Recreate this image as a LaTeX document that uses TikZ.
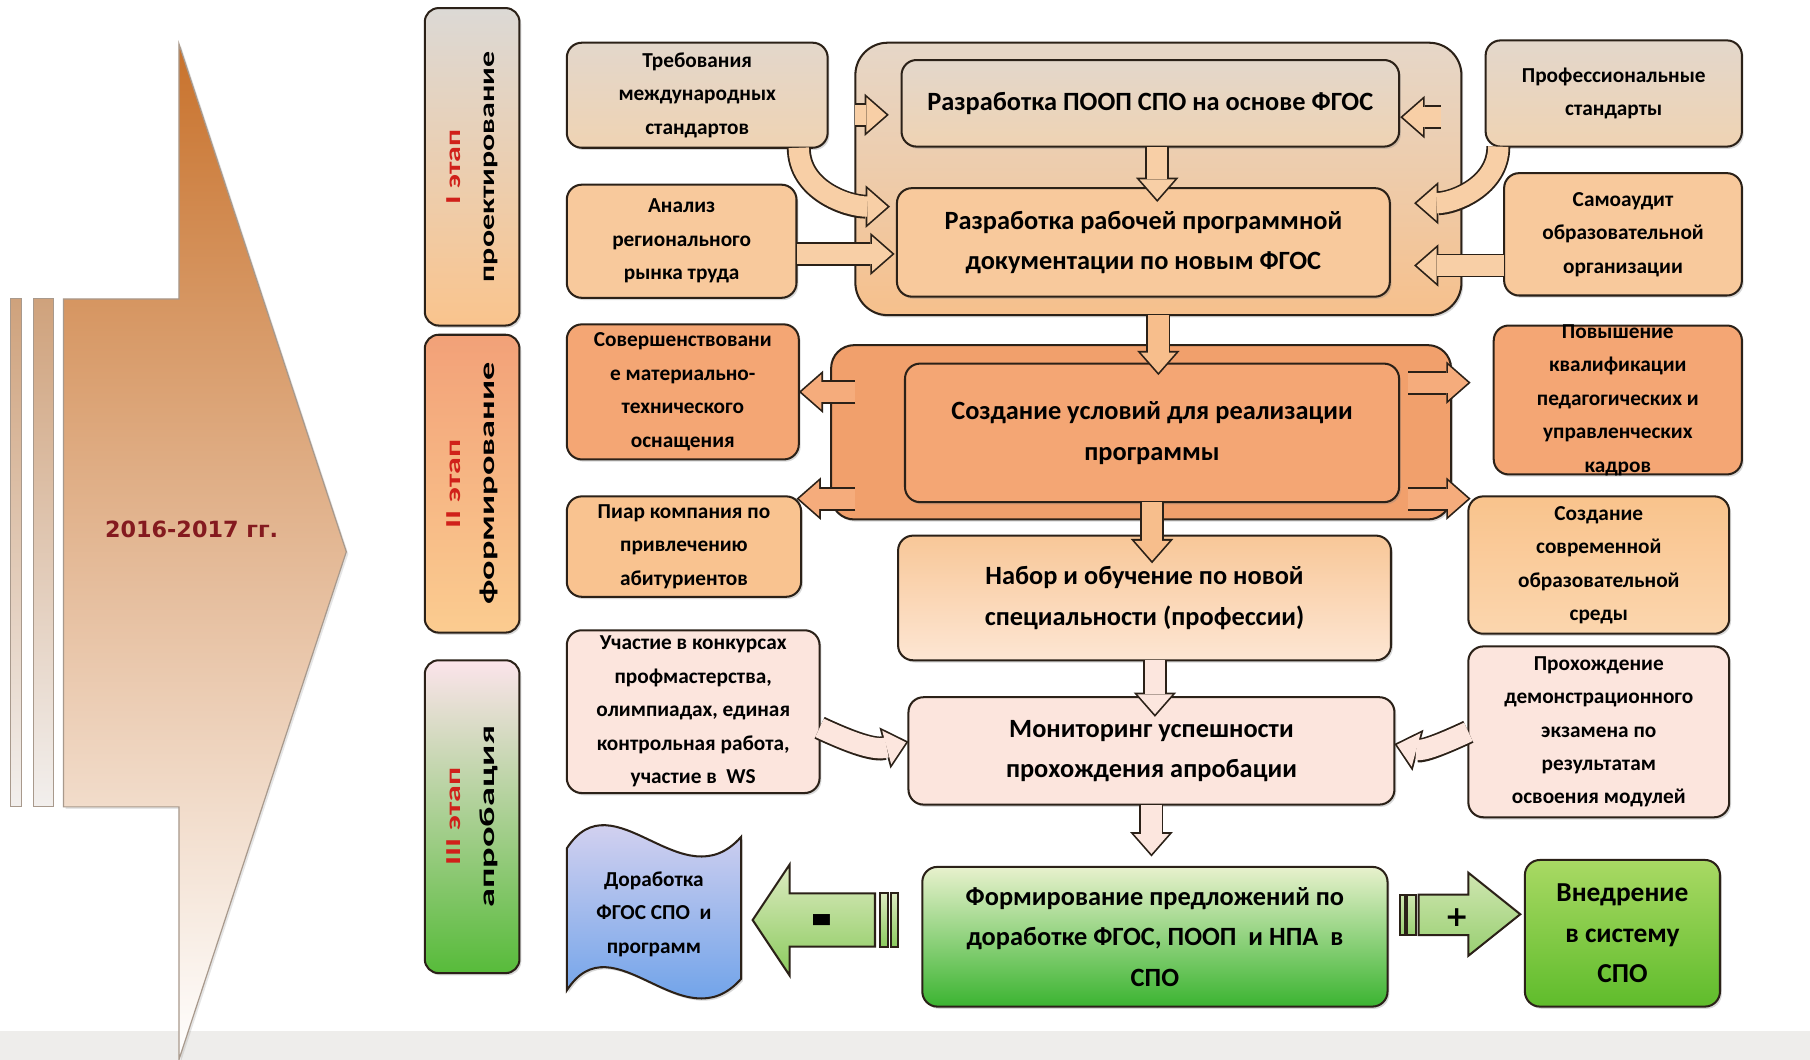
\documentclass[tikz,border=0pt]{standalone}
\usepackage{fontspec}
\usepackage{graphicx}
\setmainfont{Carlito}
\newfontfamily\yearfont{DejaVu Sans}
\usetikzlibrary{positioning, arrows.meta, calc, shadows}

\definecolor{edge}{HTML}{2B2118}
\definecolor{beigeTop}{HTML}{E3D7CB}
\definecolor{beigeBot}{HTML}{EFD3B3}
\definecolor{peach}{HTML}{F8C99C}
\definecolor{contTop}{HTML}{E6D7C8}
\definecolor{contBot}{HTML}{F6C08C}
\definecolor{orange}{HTML}{F4A674}
\definecolor{orangeDark}{HTML}{F1A06C}
\definecolor{apricot}{HTML}{F9C390}
\definecolor{sredaTop}{HTML}{F9C38C}
\definecolor{sredaBot}{HTML}{FBD6AE}
\definecolor{nabTop}{HTML}{F8C798}
\definecolor{nabBot}{HTML}{FDE6D3}
\definecolor{pink}{HTML}{FCE5DD}
\definecolor{formTop}{HTML}{E8F1CD}
\definecolor{formBot}{HTML}{3BB431}
\definecolor{vnedTop}{HTML}{A9D964}
\definecolor{vnedBot}{HTML}{5FBC2B}
\definecolor{dorTop}{HTML}{EDDDF1}
\definecolor{dorBot}{HTML}{5898E8}
\definecolor{stOneTop}{HTML}{DCD9D5}
\definecolor{stOneBot}{HTML}{FAC48D}
\definecolor{stTwoTop}{HTML}{F2A178}
\definecolor{stTwoBot}{HTML}{FBCC90}
\definecolor{stThreeTop}{HTML}{FCE4EB}
\definecolor{stThreeMid}{HTML}{F8EEE4}
\definecolor{stThreeBot}{HTML}{57BB3A}
\definecolor{stageRed}{HTML}{D0201A}
\definecolor{yearRed}{HTML}{841A1F}
\definecolor{arrowTop}{HTML}{C8722C}
\definecolor{arrowMid}{HTML}{FFF8F2}
\definecolor{arrowEdge}{HTML}{A8998C}
\definecolor{barTop}{HTML}{CFA27C}
\definecolor{barBot}{HTML}{F2EFED}
\definecolor{bandGray}{HTML}{EEEDEB}
\definecolor{arrowPeach}{HTML}{F8CFA6}
\definecolor{arrowOrange}{HTML}{F5AC7C}
\definecolor{arrowLight}{HTML}{F7BE8C}
\definecolor{arrowPink}{HTML}{FCE6DE}
\definecolor{minusTop}{HTML}{DDEBC1}
\definecolor{minusBot}{HTML}{8BCA5E}
\definecolor{plusTop}{HTML}{CFE6B0}
\definecolor{plusBot}{HTML}{99CF72}

\newcommand{\fatarrow}[2]{\draw[fat_back] #2 ; \draw[fat_front, draw=#1] #2 ;}

\begin{document}
\begin{tikzpicture}
    [
        x=0.2mm, y=-0.2mm,
        box/.style={draw=edge, line width=1pt, rounded corners=2.6mm, inner sep=1pt, outer sep=0pt, align=center, drop shadow={shadow xshift=0.9pt, shadow yshift=-1.1pt, opacity=0.3}},
        small_box/.style={box, font=\fontsize{10.5}{16.5}\selectfont\bfseries},
        main_box/.style={box, font=\fontsize{13}{20}\selectfont\bfseries},
        small_text/.style={align=center, font=\fontsize{10.5}{16.5}\selectfont\bfseries},
        stage_box/.style={box, rounded corners=2.4mm, minimum width=16.4mm},
        stage_text/.style={rotate=90, align=center, font=\fontsize{10.5}{17}\selectfont\bfseries},
        fat_back/.style={line width=11.8pt, draw=edge, -{Triangle[length=12pt, width=21pt, line width=0pt]}},
        fat_front/.style={line width=10pt, shorten >=1.3pt, -{Triangle[length=9.8pt, width=17.2pt, line width=0pt]}},
        green_arrow/.style={draw=edge, line width=1pt},
        bar_fill/.style={draw=arrowEdge, line width=0.5pt, top color=barTop, bottom color=barBot},
    ]
        \fill[white] (0,0) rectangle (1568,918) ;
        \fill[bandGray] (0,893) rectangle (1568,918) ;
        \useasboundingbox (0,0) rectangle (1568,918) ;

        \draw[bar_fill] (9,259) rectangle (19,699) ;
        \draw[bar_fill] (29,259) rectangle (46,699) ;
        \draw[draw=arrowEdge, line width=0.6pt, top color=arrowTop, middle color=arrowMid, bottom color=white, drop shadow={shadow xshift=1pt, shadow yshift=-1pt, opacity=0.2}] (55,259) -- (155,259) -- (155,38) -- (300,478) -- (155,918) -- (155,699) -- (55,699) -- cycle ;
        \node[font=\yearfont\fontsize{11}{13}\selectfont\bfseries, text=yearRed] (year) at (166,459) {2016-2017 гг.} ;

        \node[stage_box, top color=stOneTop, bottom color=stOneBot, minimum height=55mm, label={[stage_text]center:{\scalebox{1.5}[1]{\color{stageRed}I этап}\\\scalebox{1.5}[1]{проектирование}}}] (stage1) at (409,144.5) {} ;
        \node[stage_box, top color=stTwoTop, bottom color=stTwoBot, minimum height=51.6mm, label={[stage_text]center:{\scalebox{1.6}[1]{\color{stageRed}II этап}\\\scalebox{1.7}[1]{формирование}}}] (stage2) at (409,419) {} ;
        \node[stage_box, top color=stThreeTop, middle color=stThreeMid, bottom color=stThreeBot, minimum height=54.2mm, label={[stage_text]center:{\scalebox{1.6}[1]{\color{stageRed}III этап}\\\scalebox{1.8}[1]{апробация}}}] (stage3) at (409,707.5) {} ;

        \node[box, rounded corners=5.6mm, top color=contTop, bottom color=contBot, minimum width=105mm, minimum height=47.2mm] (cont1) at (1003.5,155) {} ;
        \node[main_box, top color=beigeTop, bottom color=beigeBot, minimum width=86.2mm, minimum height=15mm] (poop) at (996.5,89.5) {Разработка ПООП СПО на основе ФГОС} ;
        \node[main_box, fill=peach, minimum width=85.4mm, minimum height=18.8mm] (rab) at (990.5,210) {Разработка рабочей программной\\документации по новым ФГОС} ;
        \node[small_box, top color=beigeTop, bottom color=beigeBot, minimum width=45.2mm, minimum height=18.2mm] (treb) at (604,82.5) {Требования\\международных\\стандартов} ;
        \node[small_box, fill=peach, minimum width=39.8mm, minimum height=19.6mm] (anal) at (590.5,209) {Анализ\\регионального\\рынка труда} ;
        \node[small_box, top color=beigeTop, bottom color=beigeBot, minimum width=44.4mm, minimum height=18.4mm] (prof) at (1398,81) {Профессиональные\\стандарты} ;
        \node[small_box, fill=peach, minimum width=41.2mm, minimum height=21.2mm] (samo) at (1406,203) {Самоаудит\\образовательной\\организации} ;

        \node[box, rounded corners=4mm, fill=orangeDark, minimum width=107.4mm, minimum height=30.2mm] (cont2) at (988.5,374.5) {} ;
        \node[main_box, fill=orange, minimum width=85.6mm, minimum height=24mm] (usl) at (998,375) {Создание условий для реализации\\программы} ;
        \node[small_box, fill=orange, minimum width=40.2mm, minimum height=23.4mm] (sov) at (591.5,339.5) {Совершенствовани\\е материально-\\технического\\оснащения} ;
        \node[small_box, fill=apricot, minimum width=40.6mm, minimum height=17.4mm] (piar) at (592.5,473.5) {Пиар компания по\\привлечению\\абитуриентов} ;
        \node[box, fill=orange, minimum width=43mm, minimum height=25.8mm, label={[small_text]center:{Повышение\\квалификации\\педагогических и\\управленческих\\кадров}}] (pov) at (1401.5,346.5) {} ;
        \node[small_box, top color=sredaTop, bottom color=sredaBot, minimum width=45.2mm, minimum height=23.8mm] (sreda) at (1385,489.5) {Создание\\современной\\образовательной\\среды} ;
        \node[main_box, top color=nabTop, bottom color=nabBot, minimum width=85.4mm, minimum height=21.6mm] (nab) at (991.5,518) {Набор и обучение по новой\\специальности (профессии)} ;

        \node[small_box, fill=pink, minimum width=43.8mm, minimum height=28.2mm] (uch) at (600.5,616.5) {Участие в конкурсах\\профмастерства,\\олимпиадах, единая\\контрольная работа,\\участие в\ \ WS} ;
        \node[main_box, fill=pink, minimum width=84.2mm, minimum height=18.6mm] (mon) at (997.5,650.5) {Мониторинг успешности\\прохождения апробации} ;
        \node[small_box, fill=pink, minimum width=45.2mm, minimum height=29.6mm] (proh) at (1385,634) {Прохождение\\демонстрационного\\экзамена по\\результатам\\освоения модулей} ;
        \node[main_box, top color=formTop, bottom color=formBot, minimum width=80.6mm, minimum height=24.2mm] (form) at (1000.5,811.5) {Формирование предложений по\\доработке ФГОС, ПООП\ \ и НПА\ \ в\\СПО} ;
        \node[box, font=\fontsize{13.5}{20}\selectfont\bfseries, top color=vnedTop, bottom color=vnedBot, minimum width=33.8mm, minimum height=25.4mm] (vned) at (1405.5,808.5) {Внедрение\\в систему\\СПО} ;

        \coordinate (dor_c) at (566.5,792) ;
        \begin{scope}[shift={(dor_c)}]
            \draw[draw=edge, line width=1pt, top color=dorTop, bottom color=dorBot, drop shadow={shadow xshift=0.9pt, shadow yshift=-1.1pt, opacity=0.3}] (-75.5,-57) .. controls (-35,-120) and (25,-10) .. (75.5,-67) -- (75.5,56) .. controls (25,113) and (-35,3) .. (-75.5,66) -- cycle ;
        \end{scope}
        \node[small_text] (dor) at (dor_c) {Доработка\\ФГОС СПО\ \ и\\программ} ;

        \fatarrow{arrowPeach}{($(cont1.west |- poop.west)+(0,10)$) -- ($(poop.west)+(-11,10)$)}
        \fatarrow{arrowPeach}{($(treb.south east)+(-25,0)$) to[out=-90, in=180] ($(rab.north west)+(-6,16)$)}
        \fatarrow{arrowPeach}{($(anal.east)+(0,11)$) -- ($(rab.west)+(-2,10)$)}
        \fatarrow{arrowPeach}{($(cont1.east |- poop.east)+(-18,12)$) -- ($(poop.east)+(1,12)$)}
        \fatarrow{arrowPeach}{($(prof.south west)+(11,0)$) to[out=-90, in=0] ($(rab.north east)+(21,13)$)}
        \fatarrow{arrowPeach}{($(samo.west)+(0,27)$) -- ($(rab.east)+(21,20)$)}
        \fatarrow{arrowPeach}{($(poop.south)+(6,0)$) -- ($(poop.south |- rab.north)+(6,12)$)}
        \fatarrow{arrowLight}{(cont1.south) -- ($(cont1.south |- usl.north)+(0,10)$)}

        \fatarrow{arrowOrange}{($(sov.east -| usl.west)+(-43,0)$) -- (sov.east)}
        \fatarrow{arrowOrange}{($(piar.north east -| usl.west)+(-43,2)$) -- ($(piar.north east)+(-4,2)$)}
        \fatarrow{arrowOrange}{($(pov.west -| usl.east)+(8,-15)$) -- ($(pov.west)+(-20,-15)$)}
        \fatarrow{arrowOrange}{($(sreda.north west -| usl.east)+(8,2)$) -- ($(sreda.north west)+(2,2)$)}
        \fatarrow{arrowLight}{(usl.south) -- ($(usl.south |- nab.north)+(0,24)$)}

        \fatarrow{arrowPink}{($(nab.south)+(9,0)$) -- ($(nab.south |- mon.north)+(9,17)$)}
        \fatarrow{arrowPink}{($(uch.east)+(0,14)$) to[out=-25, in=195] ($(mon.west)+(0,-8)$)}
        \fatarrow{arrowPink}{(proh.west) to[out=205, in=-15] ($(mon.east)+(0,-6)$)}
        \fatarrow{arrowPink}{(mon.south) -- ($(mon.south |- form.north)+(0,-9)$)}

        \begin{scope}[shift={(form.west)}]
            \draw[green_arrow, top color=minusTop, bottom color=minusBot] (-147,-14.5) -- (-115,-62.5) -- (-115,-37.5) -- (-41,-37.5) -- (-41,8.5) -- (-115,8.5) -- (-115,33.5) -- cycle ;
            \draw[green_arrow, top color=minusTop, bottom color=minusBot] (-37,-37.5) rectangle (-30,8.5) ;
            \draw[green_arrow, top color=minusTop, bottom color=minusBot] (-27,-37.5) rectangle (-21,8.5) ;
        \end{scope}
        \begin{scope}[shift={(form.east)}]
            \draw[green_arrow, top color=plusTop, bottom color=plusBot] (27,-36.5) -- (70,-36.5) -- (70,-55.5) -- (115,-19.5) -- (70,16.5) -- (70,-1.5) -- (27,-1.5) -- cycle ;
            \draw[green_arrow, top color=plusTop, bottom color=plusBot] (11,-36.5) rectangle (15,-1.5) ;
            \draw[green_arrow, top color=plusTop, bottom color=plusBot] (17,-36.5) rectangle (25,-1.5) ;
        \end{scope}
        \node[font=\yearfont\bfseries] (minus_sign) at ($(form.west)+(-87,-7.5)$) {\scalebox{1.7}[2.4]{\fontsize{16}{16}\selectfont -}} ;
        \node[font=\yearfont\bfseries] (plus_sign) at ($(form.east)+(60,-16.5)$) {\fontsize{14}{14}\selectfont +} ;
    \end{tikzpicture}
\end{document}
